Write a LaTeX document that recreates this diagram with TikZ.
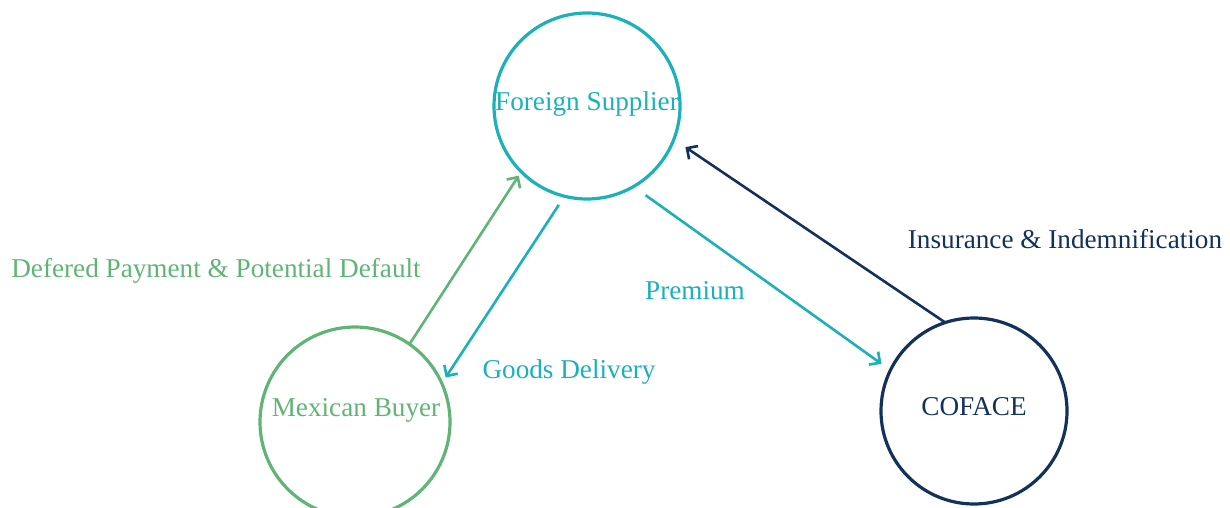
\documentclass[tikz,border=0pt]{standalone}
\usepackage{fontspec}
\setmainfont{Liberation Serif}
\usetikzlibrary{arrows.meta}
\definecolor{tealc}{RGB}{28,176,184}
\definecolor{greenc}{RGB}{96,180,118}
\definecolor{navyc}{RGB}{18,50,92}
\begin{document}
\begin{tikzpicture}[x=0.5pt,y=-0.5pt,
  party/.style={circle,draw,line width=1.6pt,inner sep=0pt,outer sep=0pt},
  txt/.style={font=\fontsize{13.6}{16}\selectfont,inner sep=0pt},
  flow/.style={line width=1.3pt,-{Straight Barb[length=4pt,width=8pt,line width=1.3pt]}}]
\useasboundingbox (0,0) rectangle (1230,508);
% the three parties
\node[party,draw=tealc,minimum size=93pt] (fs) at (587,106) {};
\node[party,draw=greenc,minimum size=95pt] (mb) at (355,422) {};
\node[party,draw=navyc,minimum size=93pt] (cf) at (974,411) {};
\node[txt,text=tealc] (fst) at (587,104) {Foreign Supplier};
\node[txt,text=greenc] (mbt) at (356,410) {Mexican Buyer};
\node[txt,text=navyc] (cft) at (974,407) {COFACE};
% flows between them
\draw[flow,draw=greenc,shorten >=2.3pt] (mb.55.5) -- (fs.225.8);
\draw[flow,draw=tealc,shorten <=5.2pt,shorten >=3.5pt] (fs.256.6) -- (mb.24.3);
\draw[flow,draw=tealc,shorten <=7.5pt,shorten >=5.5pt] (fs.300.6) -- (cf.154.4);
\draw[flow,draw=navyc,shorten >=7pt] (cf.108.8) -- (fs.339.2);
% flow labels
\node[txt,text=greenc] (dp) at (216,271) {Defered Payment \& Potential Default};
\node[txt,text=tealc] (gd) at (569,372) {Goods Delivery};
\node[txt,text=tealc] (pr) at (695,291) {Premium};
\node[txt,text=navyc] (ins) at (1065,239) {Insurance \& Indemnification};
\end{tikzpicture}
\end{document}
